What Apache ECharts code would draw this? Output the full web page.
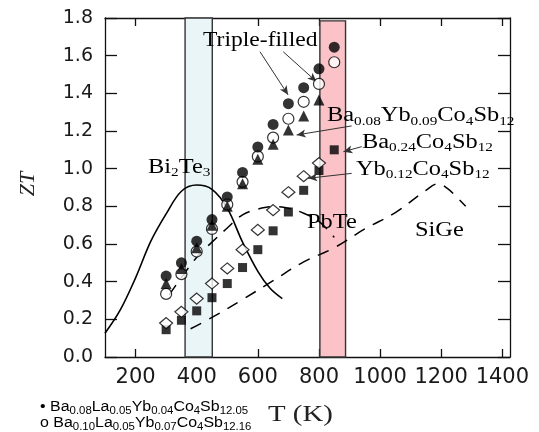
<!DOCTYPE html>
<html>
<head>
<meta charset="utf-8">
<script src="https://cdn.jsdelivr.net/npm/echarts@6/dist/echarts.min.js"></script>
<style>html,body{margin:0;padding:0;background:#fff;}#c{width:539px;height:432px;}</style>
</head>
<body>
<div id="c"></div>
<script>
// ---- data ----
const temps = [300, 350, 400, 450, 500, 550, 600, 650, 700, 750, 800, 850];
const tempsTo800 = [300, 350, 400, 450, 500, 550, 600, 650, 700, 750, 800];
const baLaYb005 = [0.43, 0.50, 0.615, 0.73, 0.85, 0.98, 1.115, 1.235, 1.345, 1.43, 1.53, 1.645];   // filled circles
const baLaYb016 = [0.335, 0.44, 0.56, 0.68, 0.81, 0.93, 1.065, 1.165, 1.265, 1.355, 1.45, 1.565];  // open circles
const baYb = [0.39, 0.47, 0.58, 0.70, 0.80, 0.92, 1.05, 1.13, 1.205, 1.28, 1.365];                 // triangles
const ba024 = [0.145, 0.195, 0.245, 0.315, 0.39, 0.475, 0.57, 0.67, 0.77, 0.885, 0.99, 1.10];      // squares
const yb012 = [0.18, 0.24, 0.31, 0.39, 0.47, 0.57, 0.675, 0.78, 0.875, 0.96, 1.03];                // diamonds

const bi2te3T = [100, 150, 200, 250, 300, 350, 400, 450, 500, 550, 600, 640, 680];
const bi2te3ZT = [0.126, 0.25, 0.42, 0.615, 0.76, 0.88, 0.913, 0.89, 0.79, 0.61, 0.455, 0.365, 0.31];
const pbteT = [310, 400, 450, 500, 550, 600, 650, 700, 750, 800, 850];
const pbteZT = [0.33, 0.53, 0.61, 0.685, 0.755, 0.785, 0.798, 0.79, 0.763, 0.72, 0.635];
const sigeT = [380, 450, 550, 650, 750, 850, 950, 1050, 1150, 1190, 1220, 1250, 1280];
const sigeZT = [0.15, 0.21, 0.305, 0.405, 0.505, 0.58, 0.68, 0.767, 0.885, 0.92, 0.895, 0.85, 0.80];

const xTicks = [200, 400, 600, 800, 1000, 1200, 1400];
const blueBand = [362, 451];
const redBand = [803, 887];

// arrows: [fromT, fromZT, toT, toZT]
const arrows = [
  [607, 1.621, 699, 1.392],
  [683, 1.621, 792, 1.462],
  [907, 1.227, 727, 1.179],
  [940, 1.117, 880, 1.09],
  [907, 0.975, 765, 0.949]
];

const zip = (a, b) => a.map((v, i) => [v, b[i]]);

const chart = echarts.init(document.getElementById('c'), null, {renderer: 'canvas'});
const axisColor = '#111';
const lineStyleAxis = {color: axisColor, width: 1.3};

const serifRich = {
  m: {fontFamily: 'Liberation Serif', fontSize: 20, lineHeight: 24, color: '#222'},
  s: {fontFamily: 'Liberation Serif', fontSize: 12.5, lineHeight: 14, verticalAlign: 'bottom', color: '#222'}
};
const sansRich = {
  m: {fontFamily: 'Liberation Sans', fontSize: 14, lineHeight: 18, color: '#222'},
  s: {fontFamily: 'Liberation Sans', fontSize: 10, lineHeight: 12, verticalAlign: 'bottom', color: '#222'}
};
function serifText(x, y, txt, sx) {
  return {type: 'text', x: x, y: y, scaleX: sx || 1.22, z: 100,
    style: {text: txt, rich: serifRich, align: 'left', verticalAlign: 'middle'}};
}
function sansText(x, y, txt) {
  return {type: 'text', x: x, y: y, scaleX: 1.14, z: 100,
    style: {text: txt, rich: sansRich, align: 'left', verticalAlign: 'middle'}};
}

const option = {
  animation: false,
  backgroundColor: '#fff',
  grid: {left: 105, right: 29, top: 18, bottom: 75},
  xAxis: [
    {type: 'value', min: 100, max: 1425, position: 'bottom',
      axisLine: {show: true, onZero: false, lineStyle: lineStyleAxis},
      axisTick: {show: true, inside: true, length: 8, customValues: xTicks, lineStyle: lineStyleAxis},
      axisLabel: {show: true, customValues: xTicks, fontFamily: 'DejaVu Sans', fontSize: 21, color: '#1a1a1a', margin: 10,
        formatter: v => String(v)},
      splitLine: {show: false}},
    {type: 'value', min: 100, max: 1425, position: 'top',
      axisLine: {show: true, onZero: false, lineStyle: lineStyleAxis},
      axisTick: {show: true, inside: true, length: 8, customValues: xTicks, lineStyle: lineStyleAxis},
      axisLabel: {show: false},
      splitLine: {show: false}}
  ],
  yAxis: [
    {type: 'value', min: 0, max: 1.8, interval: 0.2, position: 'left',
      axisLine: {show: true, onZero: false, lineStyle: lineStyleAxis},
      axisTick: {show: true, inside: true, length: 12, lineStyle: lineStyleAxis},
      axisLabel: {fontFamily: 'DejaVu Sans', fontSize: 19, color: '#1a1a1a', margin: 12,
        formatter: v => v.toFixed(1)},
      splitLine: {show: false}},
    {type: 'value', min: 0, max: 1.8, interval: 0.2, position: 'right',
      axisLine: {show: true, onZero: false, lineStyle: lineStyleAxis},
      axisTick: {show: true, inside: true, length: 12, lineStyle: lineStyleAxis},
      axisLabel: {show: false},
      splitLine: {show: false}}
  ],
  series: [
    {type: 'line', z: 0, data: [], silent: true,
      markArea: {silent: true, data: [
        [{xAxis: blueBand[0], yAxis: 0, itemStyle: {color: '#eaf5f8', borderColor: '#333', borderWidth: 1.4}},
         {xAxis: blueBand[1], yAxis: 1.8}],
        [{xAxis: redBand[0], yAxis: 0, itemStyle: {color: '#fbc3c7', borderColor: '#333', borderWidth: 1.4}},
         {xAxis: redBand[1], yAxis: 1.785}]
      ]}},
    {name: 'Bi2Te3', type: 'line', z: 3, smooth: 0.35, showSymbol: false, silent: true,
      data: zip(bi2te3T, bi2te3ZT), lineStyle: {color: '#000', width: 1.6}},
    {name: 'PbTe', type: 'line', z: 3, smooth: 0.4, showSymbol: false, silent: true,
      data: zip(pbteT, pbteZT), lineStyle: {color: '#000', width: 1.5, type: [12, 9]}},
    {name: 'SiGe', type: 'line', z: 3, smooth: 0.4, showSymbol: false, silent: true,
      data: zip(sigeT, sigeZT), lineStyle: {color: '#000', width: 1.5, type: [12, 9]}},
    {name: 'Ba0.24Co4Sb12', type: 'scatter', z: 4, symbol: 'rect', symbolSize: 9,
      data: zip(temps, ba024), itemStyle: {color: '#000'}},
    {name: 'Yb0.12Co4Sb12', type: 'scatter', z: 5, symbol: 'diamond', symbolSize: [13, 11],
      data: zip(tempsTo800, yb012), itemStyle: {color: '#fff', borderColor: '#000', borderWidth: 1.2}},
    {name: 'Ba0.10La0.05Yb0.07Co4Sb12.16', type: 'scatter', z: 6, symbol: 'circle', symbolSize: 11,
      data: zip(temps, baLaYb016), itemStyle: {color: '#fff', borderColor: '#000', borderWidth: 1.2}},
    {name: 'Ba0.08Yb0.09Co4Sb12', type: 'scatter', z: 7, symbol: 'triangle', symbolSize: 11,
      data: zip(tempsTo800, baYb), itemStyle: {color: '#000'}},
    {name: 'Ba0.08La0.05Yb0.04Co4Sb12.05', type: 'scatter', z: 8, symbol: 'circle', symbolSize: 11,
      data: zip(temps, baLaYb005), itemStyle: {color: '#000'},
      markLine: {silent: true, symbol: ['none', 'arrow'], symbolSize: [6, 9], animation: false,
        label: {show: false},
        lineStyle: {color: '#333', width: 1, type: 'solid'},
        data: arrows.map(a => [{coord: [a[0], a[1]]}, {coord: [a[2], a[3]]}])}}
  ],
  graphic: [
    serifText(203, 41, '{m|Triple-filled}', 1.18),
    serifText(327, 116, '{m|Ba}{s|0.08}{m|Yb}{s|0.09}{m|Co}{s|4}{m|Sb}{s|12}'),
    serifText(362, 142.5, '{m|Ba}{s|0.24}{m|Co}{s|4}{m|Sb}{s|12}'),
    serifText(356, 169.5, '{m|Yb}{s|0.12}{m|Co}{s|4}{m|Sb}{s|12}'),
    serifText(148, 167.5, '{m|Bi}{s|2}{m|Te}{s|3}'),
    serifText(307, 222.5, '{m|PbTe}'),
    serifText(415, 231, '{m|SiGe}'),
    {type: 'text', x: 28, y: 184, rotation: Math.PI / 2, z: 100,
      style: {text: 'ZT', fontFamily: 'Liberation Serif', fontStyle: 'italic', fontSize: 22,
        fill: '#222', align: 'center', verticalAlign: 'middle'}},
    {type: 'text', x: 268, y: 415, scaleX: 1.2, z: 100,
      style: {text: 'T (K)', fontFamily: 'Liberation Serif', fontSize: 24, fill: '#222',
        align: 'left', verticalAlign: 'middle'}},
    sansText(40, 407, '{m|• Ba}{s|0.08}{m|La}{s|0.05}{m|Yb}{s|0.04}{m|Co}{s|4}{m|Sb}{s|12.05}'),
    sansText(40, 423.5, '{m|o Ba}{s|0.10}{m|La}{s|0.05}{m|Yb}{s|0.07}{m|Co}{s|4}{m|Sb}{s|12.16}')
  ]
};
chart.setOption(option);
</script>
</body>
</html>
